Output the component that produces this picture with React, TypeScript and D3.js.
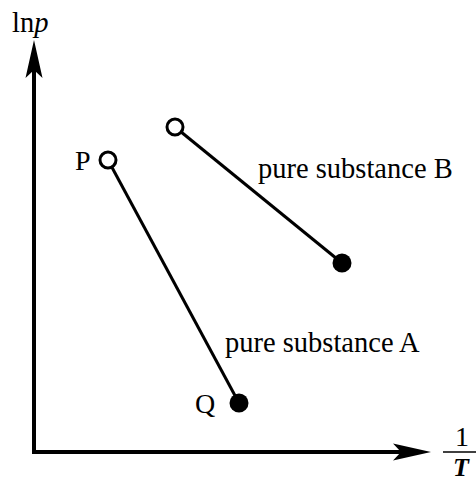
import React from "react";
import * as d3 from "d3";

// vapour-pressure lines, x = 1/T, y = ln p (arbitrary units)
const seriesNames = ["pure substance A", "pure substance B"];
const startX = [1.85, 3.525];
const startY = [7.3, 8.125];
const endX = [5.125, 7.7];
const endY = [1.225, 4.725];
const pointLabels = ["P", "Q"];

const W = 476;
const H = 482;

export default function App() {
  const x = d3.scaleLinear().domain([0, 10]).range([34, 434]);
  const y = d3.scaleLinear().domain([0, 10]).range([452, 52]);
  const x0 = x(0);
  const y0 = y(0);
  const font = "'Liberation Serif', 'Times New Roman', serif";

  const line = d3.line<[number, number]>().x((d) => x(d[0])).y((d) => y(d[1]));

  // notched arrow head pointing up, tip at (0,0)
  const arrowUp = "M0,0 L8.5,38 L0,30 L-8.5,38 Z";

  return (
    <svg width={W} height={H} style={{ position: "absolute", left: 0, top: 0, background: "#fff" }}>
      {/* axes */}
      <line x1={x0} y1={y0 + 2} x2={x0} y2={60} stroke="#000" strokeWidth={4} />
      <line x1={x0 - 2} y1={y0} x2={412} y2={y0} stroke="#000" strokeWidth={4} />
      <path d={arrowUp} transform={`translate(${x0},40)`} fill="#000" />
      <path d={arrowUp} transform={`translate(431,${y0}) rotate(90)`} fill="#000" />

      <text x={12} y={32} fontFamily={font} fontSize={28.5}>
        ln<tspan fontStyle="italic">p</tspan>
      </text>
      <text x={462} y={446} fontFamily={font} fontSize={28} textAnchor="middle">1</text>
      <line x1={443} y1={452} x2={476} y2={452} stroke="#000" strokeWidth={1.5} />
      <text x={461} y={476} fontFamily={font} fontSize={26} fontStyle="italic" fontWeight="bold" textAnchor="middle">T</text>

      {seriesNames.map((name, i) => (
        <g key={name}>
          <path
            d={line([[startX[i], startY[i]], [endX[i], endY[i]]]) ?? ""}
            stroke="#000"
            strokeWidth={3}
            fill="none"
          />
          <circle cx={x(startX[i])} cy={y(startY[i])} r={8} fill="#fff" stroke="#000" strokeWidth={3} />
          <circle cx={x(endX[i])} cy={y(endY[i])} r={9.5} fill="#000" />
        </g>
      ))}

      <text x={x(startX[0]) - 33} y={y(startY[0]) + 10} fontFamily={font} fontSize={28}>{pointLabels[0]}</text>
      <text x={x(endX[0]) - 44} y={y(endY[0]) + 10} fontFamily={font} fontSize={28}>{pointLabels[1]}</text>
      <text x={225} y={352} fontFamily={font} fontSize={28.5}>{seriesNames[0]}</text>
      <text x={258} y={178} fontFamily={font} fontSize={28.5}>{seriesNames[1]}</text>
    </svg>
  );
}
